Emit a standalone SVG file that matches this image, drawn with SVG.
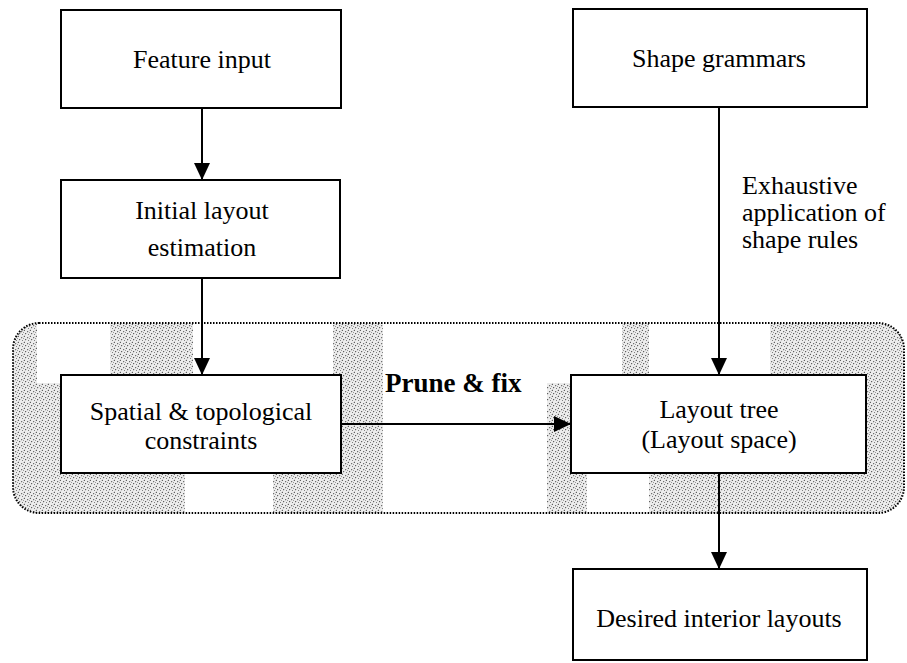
<svg xmlns="http://www.w3.org/2000/svg" width="907" height="663" viewBox="0 0 907 663">
  <style>
    .box { fill: #ffffff; stroke: #000000; stroke-width: 2; }
    .lbl { font-family: "Liberation Serif", "Times New Roman", serif; font-size: 26px; fill: #000000; text-anchor: middle; }
    .note { font-family: "Liberation Serif", "Times New Roman", serif; font-size: 26px; fill: #000000; }
    .bold { font-weight: bold; font-size: 27px; }
    .wire { fill: none; stroke: #000000; stroke-width: 2; marker-end: url(#head); }
    .shade { fill: url(#stipple); }
  </style>
  <defs>
    <marker id="head" markerUnits="userSpaceOnUse" markerWidth="17" markerHeight="16" viewBox="0 0 17 16" refX="17" refY="8" orient="auto">
      <path d="M0,0 L17,8 L0,16 z" fill="#000000"/>
    </marker>
    <!-- dithered grey texture used for the layout-space band -->
    <pattern id="stipple" width="6" height="6" patternUnits="userSpaceOnUse">
      <rect width="6" height="6" fill="#ececec"/>
      <rect x="0" y="0" width="1" height="1" fill="#606060"/>
      <rect x="3" y="1" width="1" height="1" fill="#707070"/>
      <rect x="1" y="3" width="1" height="1" fill="#606060"/>
      <rect x="4" y="4" width="1" height="1" fill="#808080"/>
      <rect x="5" y="2" width="1" height="1" fill="#999999"/>
      <path d="M0,6 L6,0" stroke="#b0b0b0" stroke-width="0.5"/>
    </pattern>
    <clipPath id="band-clip">
      <rect x="13" y="323" width="891" height="190" rx="26" ry="26"/>
    </clipPath>
  </defs>

  <rect width="907" height="663" fill="#ffffff"/>

  <!-- layout-space band: textured columns inside a dotted rounded frame -->
  <g id="layout-space-band">
    <g clip-path="url(#band-clip)">
      <rect class="shade" x="13" y="323" width="24" height="190"/>
      <rect class="shade" x="13" y="383" width="48" height="130"/>
      <rect class="shade" x="110" y="323" width="83" height="52"/>
      <rect class="shade" x="13" y="473" width="172" height="40"/>
      <rect class="shade" x="273" y="473" width="110" height="40"/>
      <rect class="shade" x="333" y="323" width="50" height="190"/>
      <rect class="shade" x="622" y="323" width="27" height="52"/>
      <rect class="shade" x="547" y="383" width="25" height="130"/>
      <rect class="shade" x="547" y="473" width="40" height="40"/>
      <rect class="shade" x="649" y="473" width="228" height="40"/>
      <rect class="shade" x="770" y="323" width="134" height="52"/>
      <rect class="shade" x="866" y="323" width="38" height="190"/>
    </g>
    <rect x="13" y="323" width="891" height="190" rx="26" ry="26" fill="none" stroke="#000000" stroke-width="2" stroke-dasharray="1.5 1.5"/>
  </g>

  <g id="feature-input">
    <rect class="box" x="61" y="10" width="280" height="98"/>
    <text class="lbl" x="202" y="68">Feature input</text>
  </g>

  <g id="initial-layout">
    <rect class="box" x="61" y="180" width="279" height="98"/>
    <text class="lbl" x="202" y="219">Initial layout</text>
    <text class="lbl" x="202" y="256">estimation</text>
  </g>

  <g id="constraints">
    <rect class="box" x="61" y="375" width="280" height="98"/>
    <text class="lbl" x="201" y="420">Spatial &amp; topological</text>
    <text class="lbl" x="201" y="449">constraints</text>
  </g>

  <g id="shape-grammars">
    <rect class="box" x="573" y="9" width="294" height="98"/>
    <text class="lbl" x="719" y="67">Shape grammars</text>
  </g>

  <g id="layout-tree">
    <rect class="box" x="571" y="375" width="295" height="98"/>
    <text class="lbl" x="719" y="418">Layout tree</text>
    <text class="lbl" x="719" y="448">(Layout space)</text>
  </g>

  <g id="desired-layouts">
    <rect class="box" x="573" y="569" width="294" height="91"/>
    <text class="lbl" x="719" y="627">Desired interior layouts</text>
  </g>

  <g id="connectors">
    <line class="wire" x1="202" y1="108" x2="202" y2="180"/>
    <line class="wire" x1="202" y1="278" x2="202" y2="375"/>
    <line class="wire" x1="719" y1="107" x2="719" y2="375"/>
    <line class="wire" x1="341" y1="424" x2="571" y2="424"/>
    <line class="wire" x1="719" y1="473" x2="719" y2="569"/>
    <text class="note bold" x="385" y="392">Prune &amp; fix</text>
    <text class="note" x="742" y="194">Exhaustive</text>
    <text class="note" x="742" y="221">application of</text>
    <text class="note" x="742" y="248">shape rules</text>
  </g>
</svg>
